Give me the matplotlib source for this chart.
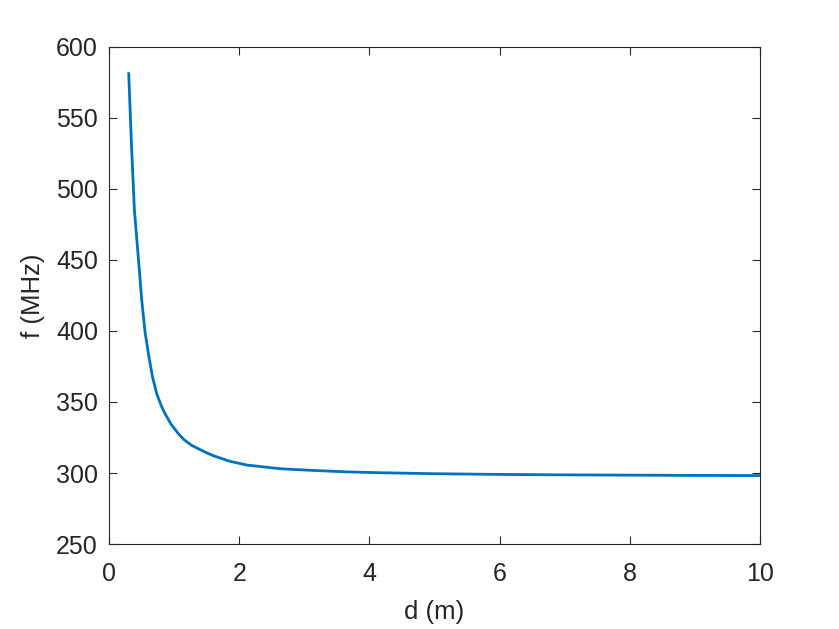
import matplotlib.pyplot as plt

# values
d = [0.302, 0.343, 0.389, 0.44, 0.502, 0.553, 0.604, 0.665, 0.732, 0.80,
     0.86, 0.95, 1.065, 1.15, 1.27, 1.475, 1.60, 1.85, 2.115, 2.63,
     3.14, 3.65, 4.16, 5.0, 6.0, 7.0, 8.0, 9.0, 10.0]
f = [581, 532, 485, 456.7, 421.5, 399, 384, 368, 355.8, 347.5,
     341.7, 334.5, 327.6, 323.5, 319.4, 314.7, 312.2, 308.3, 305.6, 303,
     301.8, 300.8, 300.2, 299.5, 299.0, 298.7, 298.5, 298.3, 298.2]

plt.rcParams['font.family'] = ['Liberation Sans', 'DejaVu Sans']

fig = plt.figure(figsize=(8.39, 6.29), dpi=100)
ax = fig.add_axes([0.13, 0.135, 0.776, 0.791])

ax.plot(d, f, color='#0072BD', linewidth=2.0)

ax.set_xlim(0, 10)
ax.set_ylim(250, 600)
ax.set_xticks(range(0, 11, 2))
ax.set_yticks(range(250, 601, 50))
ax.set_xlabel('d (m)', fontsize=18.5, color='#262626', labelpad=10)
ax.set_ylabel('f (MHz)', fontsize=18.5, color='#262626', labelpad=8)

ax.tick_params(direction='in', length=6, width=0.8, colors='#262626',
               labelsize=18, top=True, right=True)
ax.tick_params(axis='x', pad=13)
ax.tick_params(axis='y', pad=8)
for s in ax.spines.values():
    s.set_color('#262626')
    s.set_linewidth(0.8)

fig.savefig('out.png', dpi=100)
